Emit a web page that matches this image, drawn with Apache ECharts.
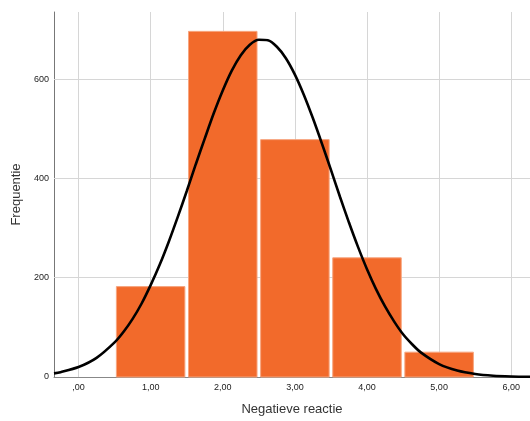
<!DOCTYPE html>
<html>
<head>
<meta charset="utf-8">
<script src="https://cdn.jsdelivr.net/npm/echarts@6/dist/echarts.min.js"></script>
<style>
html,body{margin:0;padding:0;background:#fff;}
#chart{width:530px;height:421px;}
</style>
</head>
<body>
<div id="chart"></div>
<script>
// Histogram bins (bin centres) and frequencies
const binCenters = [1, 2, 3, 4, 5];
const frequencies = [182, 696, 478, 240, 50];
// Normal curve
const curveX = [-0.34, -0.25, 0, 0.25, 0.5, 0.625, 0.75, 0.875, 1, 1.125, 1.25, 1.375, 1.5, 1.625, 1.75, 1.875, 2, 2.125, 2.25, 2.375, 2.5, 2.625, 2.75, 2.875, 3, 3.125, 3.25, 3.375, 3.5, 3.625, 3.75, 3.875, 4, 4.125, 4.25, 4.375, 4.5, 4.625, 4.75, 5, 5.25, 5.5, 5.75, 6, 6.26];
const curveY = [7.3, 9.7, 20, 38.5, 69.6, 91, 117, 148, 185, 226, 272, 322, 374, 428, 480, 531, 577, 617, 648, 669, 679, 678, 665, 642, 609, 568, 521, 470, 417, 363, 311, 262, 217, 177, 142, 112, 86, 66, 49, 26, 13, 6.1, 2.6, 1.1, 0.4];
// Axis ticks
const xTickValues = [0, 1, 2, 3, 4, 5, 6];
const xTickLabels = [',00', '1,00', '2,00', '3,00', '4,00', '5,00', '6,00'];
const yTickValues = [0, 200, 400, 600];
const yTickLabels = ['0', '200', '400', '600'];

const FONT = 'Liberation Sans, Arial, sans-serif';
const gridColor = '#d6d6d6';

const chart = echarts.init(document.getElementById('chart'), null, {renderer: 'canvas'});

const gridLines = [];
xTickValues.forEach(v => gridLines.push({xAxis: v}));
yTickValues.slice(1).forEach(v => gridLines.push({yAxis: v}));

chart.setOption({
  animation: false,
  backgroundColor: '#fff',
  grid: {left: 54, right: 0, top: 12, bottom: 42, containLabel: false},
  xAxis: {
    type: 'value',
    min: -0.34,
    max: 6.26,
    name: 'Negatieve reactie',
    nameLocation: 'middle',
    nameGap: 26,
    nameTextStyle: {fontFamily: FONT, fontSize: 13, color: '#333'},
    axisLine: {show: true, onZero: false, lineStyle: {color: '#888', width: 1}},
    axisTick: {show: false},
    splitLine: {show: false},
    axisLabel: {
      customValues: xTickValues,
      fontFamily: FONT, fontSize: 9, color: '#222', margin: 6,
      formatter: v => xTickLabels[xTickValues.indexOf(Math.round(v))] || ''
    }
  },
  yAxis: {
    type: 'value',
    min: 0,
    max: 735,
    name: 'Frequentie',
    nameLocation: 'middle',
    nameGap: 28,
    nameRotate: 90,
    nameTextStyle: {fontFamily: FONT, fontSize: 13, color: '#333'},
    axisLine: {show: true, onZero: false, lineStyle: {color: '#777', width: 1}},
    axisTick: {show: false},
    splitLine: {show: false},
    axisLabel: {
      customValues: yTickValues,
      fontFamily: FONT, fontSize: 9, color: '#222', margin: 5,
      formatter: v => yTickLabels[yTickValues.indexOf(Math.round(v))] || ''
    }
  },
  series: [
    {
      type: 'line',
      data: [],
      z: 0,
      zlevel: 0,
      silent: true,
      markLine: {
        silent: true,
        symbol: ['none', 'none'],
        label: {show: false},
        lineStyle: {color: gridColor, width: 1, type: 'solid'},
        data: gridLines
      }
    },
    {
      type: 'custom',
      z: 2,
      zlevel: 1,
      data: binCenters.map((c, i) => [c, frequencies[i]]),
      renderItem: function (params, api) {
        const c = api.value(0), f = api.value(1);
        const p0 = api.coord([c - 0.475, f]);
        const p1 = api.coord([c + 0.475, 0]);
        return {
          type: 'rect',
          shape: {x: p0[0], y: p0[1], width: p1[0] - p0[0], height: p1[1] - p0[1]},
          style: {fill: '#f26a2b', stroke: '#f7a57f', lineWidth: 1}
        };
      }
    },
    {
      type: 'line',
      z: 3,
      zlevel: 1,
      smooth: 0.3,
      symbol: 'none',
      lineStyle: {color: '#000', width: 2.6},
      data: curveX.map((x, i) => [x, curveY[i]])
    }
  ]
});
</script>
</body>
</html>
